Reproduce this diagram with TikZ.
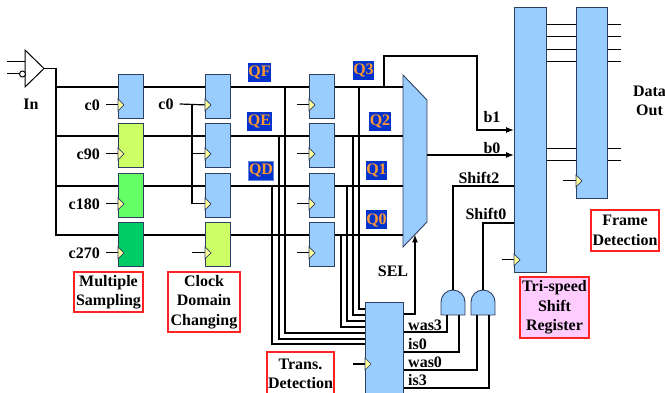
\documentclass[tikz,border=0pt]{standalone}
\usepackage{fontspec}
\setmainfont{Liberation Serif}
\usetikzlibrary{calc,arrows.meta}
\definecolor{regblue}{HTML}{99CCFF}
\definecolor{regedge}{HTML}{2F3F5F}
\definecolor{limeg}{HTML}{CCFF66}
\definecolor{midgreen}{HTML}{66FF66}
\definecolor{darkgreen}{HTML}{00CC66}
\definecolor{clkyellow}{HTML}{FFFF99}
\definecolor{qblue}{HTML}{0033CC}
\definecolor{qorange}{HTML}{FF9933}
\definecolor{pinkbox}{HTML}{FFCCFF}
\definecolor{redbox}{HTML}{FF2222}
\newcommand\clocktri[1]{\draw[clktri] ($(#1)+(0,-6)$) -- ++(6,6) -- ++(-6,6) -- cycle;}
\newcommand\andgate[2]{%
  \draw[gate] (#1,315) -- (#1,302) .. controls (#1,295.4) and ({#1+5.4},290) .. ({#1+12},290)
     .. controls ({#1+18.6},290) and ({#1+24},295.4) .. ({#1+24},302) -- ({#1+24},315) -- cycle;
  \coordinate (#2out) at ({#1+12},290);
  \coordinate (#2inA) at ({#1+6},315);
  \coordinate (#2inB) at ({#1+18},315);
}
\begin{document}
\begin{tikzpicture}[x=1pt,y=-1pt,
  font=\fontsize{16}{19.5}\selectfont\bfseries,
  wire/.style={line width=1.2pt, black},
  thinwire/.style={line width=1pt, black},
  reg/.style={draw=regedge, line width=0.9pt, fill=regblue, minimum width=25pt,
     minimum height=44pt, inner sep=0pt, anchor=north west},
  clktri/.style={draw=regedge, line width=0.6pt, fill=clkyellow},
  gate/.style={draw=regedge, line width=0.9pt, fill=regblue},
  qlabel/.style={fill=qblue, text=qorange, inner sep=0.6pt, minimum height=19pt},
  capbox/.style={draw=redbox, line width=1.2pt, fill=white, inner sep=0pt, align=center},
  sig/.style={inner sep=0pt},
  arr/.style={wire, -{Latex[length=8pt,width=6pt]}},
]
\useasboundingbox (0,0) rectangle (665,393);

% registers
\node[reg] (a1) at (118,74) {};
\node[reg,fill=limeg] (a2) at (118,123) {};
\node[reg,fill=midgreen] (a3) at (118,173) {};
\node[reg,fill=darkgreen] (a4) at (118,222) {};
\node[reg] (b1) at (205,74) {};
\node[reg] (b2) at (205,123) {};
\node[reg] (b3) at (205,173) {};
\node[reg,fill=limeg] (b4) at (205,222) {};
\node[reg] (c1) at (309,74) {};
\node[reg] (c2) at (309,123) {};
\node[reg] (c3) at (309,173) {};
\node[reg] (c4) at (309,222) {};
\foreach \n in {a1,a2,a3,a4,b1,b2,b3,b4,c1,c2,c3,c4}{
  \coordinate (\n D) at ($(\n.north west)+(0,13)$);
  \coordinate (\n Q) at ($(\n.north east)+(0,13)$);
  \coordinate (\n K) at ($(\n.south west)+(0,-14)$);
}
\node[reg, minimum width=38pt, minimum height=100pt] (td) at (365,302) {};
\node[reg, minimum width=32pt, minimum height=265pt] (sr) at (514,7) {};
\node[reg, minimum width=31pt, minimum height=191pt] (fr) at (576,7) {};

% multiplexer
\draw[gate] (403,75) -- (427,100) -- (427,222) -- (403,247) -- cycle;
\coordinate (muxl) at (403,0);
\coordinate (muxout) at (427,155);
\coordinate (selbot) at (415,234.5);

% input buffer
\draw[thinwire, fill=white] (25,50) -- (44,68.5) -- (25,87) -- cycle;
\coordinate (bufout) at (44,68.5);
\coordinate (inA) at (7,62);
\coordinate (inB) at (7,74);
\draw[thinwire] (inA) -- (25,62);
\draw[thinwire] (inB) -- (19.5,74);
\draw[thinwire, fill=white] (22.5,74) circle[radius=3pt];
\node[sig] (inlbl) at (31,104) {In};

% sampling bus
\coordinate (bus) at (56,68.5);
\draw[wire] (bufout) -- (bus) |- (a4D);
\foreach \n in {a1,a2,a3}{\draw[wire] (bus |- \n D) -- (\n D);}

% clocks of first column
\foreach \i/\t in {1/c0,2/c90,3/c180,4/c270}{
  \node[sig,anchor=east] (cka\i) at ($(a\i K)+(-18,0)$) {\t};
  \draw[wire] ($(a\i K)+(-12,0)$) -- (a\i K);
}
% column links
\foreach \i in {1,...,4}{
  \draw[wire] (a\i Q) -- (b\i D);
  \draw[wire] (b\i Q) -- (c\i D);
  \draw[wire] (c\i Q) -- (c\i Q -| muxl);
  \draw[wire] ($(c\i K)+(-12,0)$) -- (c\i K);
}
% clock of second column
\node[sig] (ckb) at (166,104) {c0};
\coordinate (kbv) at (192,0);
\draw[wire] ($(ckb.east)+(6,0)$) -- (b1K);
\draw[wire] (b1K -| kbv) |- (b3K);
\draw[wire] (b2K -| kbv) -- (b2K);
\draw[wire] (b4K -| kbv) -- (b4K);

% taps to transition detection
\foreach \k/\yy in {1/7,2/13,3/19,4/25,5/31,6/37,7/42}{
  \coordinate (tdin\k) at ($(td.north west)+(0,\yy)$);
}
\coordinate (t3) at (359,0);
\coordinate (t2) at (353,0);
\coordinate (t1) at (347,0);
\coordinate (t0) at (341,0);
\coordinate (tF) at (285,0);
\coordinate (tE) at (279,0);
\coordinate (tD) at (272,0);
\draw[wire] (c1Q -| t3) |- (tdin1);
\draw[wire] (c2Q -| t2) |- (tdin2);
\draw[wire] (c3Q -| t1) |- (tdin3);
\draw[wire] (c4Q -| t0) |- (tdin4);
\draw[wire] (b1Q -| tF) |- (tdin5);
\draw[wire] (b2Q -| tE) |- (tdin6);
\draw[wire] (b3Q -| tD) |- (tdin7);

% Q labels
\node[qlabel] (qf) at (259.5,72.5) {QF};
\node[qlabel] (qe) at (259.5,122) {QE};
\node[qlabel, draw=qblue!60, line width=0.8pt] (qd) at (261,171) {QD};
\node[qlabel] (q3) at (363.5,71) {Q3};
\node[qlabel] (q2) at (380,121.5) {Q2};
\node[qlabel] (q1) at (376.5,170.5) {Q1};
\node[qlabel] (q0) at (376.5,220) {Q0};

% b1 / b0 into shift register
\coordinate (t3b) at (384,0);
\coordinate (b1turn) at (477,56);
\coordinate (srb1) at ($(sr.north west)+(0,123)$);
\coordinate (srb0) at ($(sr.north west)+(0,148)$);
\draw[arr] (c1Q -| t3b) |- (b1turn) |- (srb1);
\draw[arr] (muxout) -- (srb0);
\node[sig] (lb1) at (492,117) {b1};
\node[sig] (lb0) at (492,148) {b0};

% SEL
\coordinate (tdsel) at ($(td.north east)+(0,12)$);
\draw[arr] (tdsel) -| (selbot);
\node[sig] (lsel) at (393,271) {SEL};

% AND gates and shift controls
\andgate{441}{ga}
\andgate{471}{gb}
\coordinate (srs2) at ($(sr.north west)+(0,179)$);
\coordinate (srs0) at ($(sr.north west)+(0,216)$);
\draw[wire] (srs2) -| (gaout);
\draw[wire] (srs0) -| (gbout);
\node[sig] (ls2) at (479,178) {Shift2};
\node[sig] (ls0) at (486,214) {Shift0};

\coordinate (tdwas3) at ($(td.north east)+(0,30)$);
\coordinate (tdis0) at ($(td.north east)+(0,50)$);
\coordinate (tdwas0) at ($(td.north east)+(0,68)$);
\coordinate (tdis3) at ($(td.north east)+(0,86)$);
\draw[wire] (tdwas3) -| (gainA);
\draw[wire] (tdis0) -| (gainB);
\draw[wire] (tdwas0) -| (gbinA);
\draw[wire] (tdis3) -| (gbinB);
\node[sig, anchor=base west] (lwas3) at (408,330.5) {was3};
\node[sig, anchor=base west] (lis0) at (408,349.5) {is0};
\node[sig, anchor=base west] (lwas0) at (408,367.5) {was0};
\node[sig, anchor=base west] (lis3) at (408,385.5) {is3};

% other clocks
\coordinate (tdK) at ($(td.north west)+(0,62)$);
\coordinate (srK) at ($(sr.south west)+(0,-13)$);
\coordinate (frK) at ($(fr.south west)+(0,-18)$);
\draw[wire] ($(tdK)+(-12,0)$) -- (tdK);
\draw[wire] ($(srK)+(-12,0)$) -- (srK);
\draw[wire] ($(frK)+(-13,0)$) -- (frK);

% data lines between shift register and frame detection
\foreach \y in {25,37,50,62,149,161}{
  \coordinate (yref) at (0,\y);
  \draw[thinwire] (sr.east |- yref) -- (fr.west |- yref);
  \draw[thinwire] (fr.east |- yref) -- ($(fr.east |- yref)+(13,0)$);
}
\node[sig, align=center] (dout) at (649.5,101) {Data\\Out};

% clock triangles
\foreach \n in {a1,a2,a3,a4,b1,b2,b3,b4,c1,c2,c3,c4}{\clocktri{\n K}}
\clocktri{tdK}
\clocktri{srK}
\clocktri{frK}

% captions
\node[capbox, minimum width=69pt, minimum height=40pt] (ms) at (108.5,292) {Multiple\\Sampling};
\node[capbox, minimum width=72pt, minimum height=60pt] (cdc) at (204,302) {Clock\\Domain\\Changing};
\node[capbox, fill=pinkbox, minimum width=69pt, minimum height=61pt] (tss) at (554.5,307.5) {Tri-speed\\Shift\\Register};
\node[capbox, minimum width=68pt, minimum height=41pt] (fdl) at (625,230.5) {Frame\\Detection};
\node[capbox, minimum width=67pt, minimum height=44pt] (tdl) at (300.5,374) {Trans.\\Detection};
\end{tikzpicture}
\end{document}
